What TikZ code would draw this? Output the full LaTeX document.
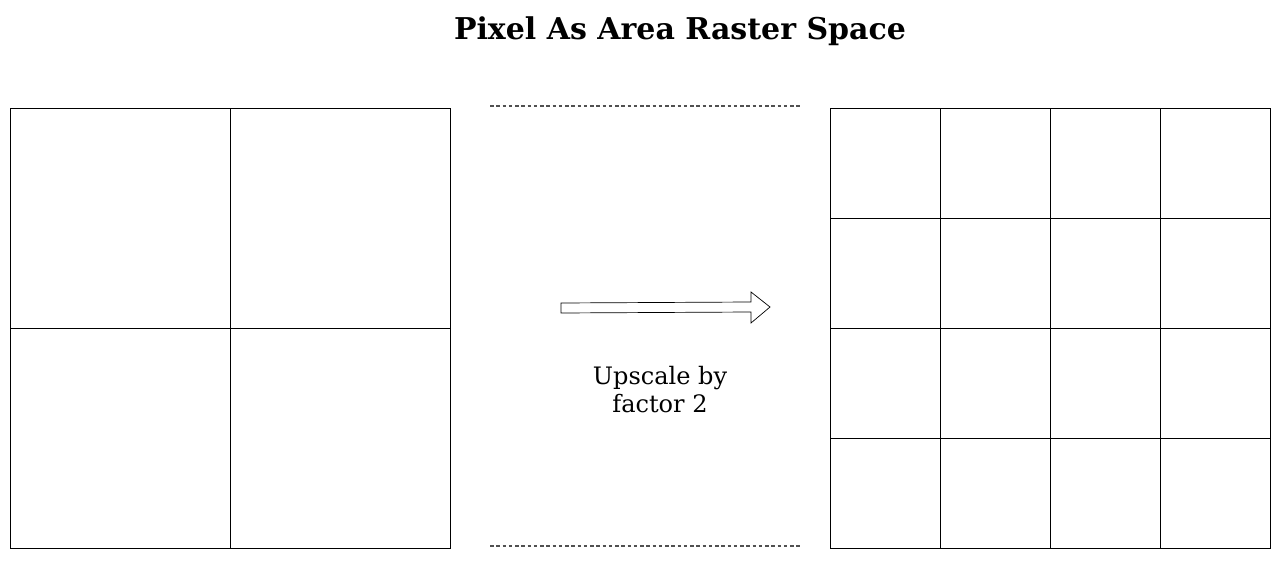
\documentclass[tikz,border=0pt]{standalone}
\usepackage{fontspec}
\setmainfont{DejaVu Serif}
\usepackage{tikz}
\usetikzlibrary{positioning}
\definecolor{guidegray}{RGB}{80,80,80}
\tikzstyle{cell} = [line width=0.7pt, draw=black]
\tikzstyle{guide} = [line width=1.2pt, color=guidegray, dash pattern=on 2.6pt off 1.9pt]
\tikzstyle{blockarrow} = [line width=0.5pt, draw=black, fill=white]

\begin{document}
\begin{tikzpicture}[x=0.72pt,y=-0.72pt]
\useasboundingbox (0,0) rectangle (1283,561);
% Title
\node[anchor=base, font=\bfseries\fontsize{21.6}{26}\selectfont] (title) at (680,40) {Pixel As Area Raster Space};

% Source raster, 2x2
\foreach \i in {0,1}
  \foreach \j in {0,1}
    \draw[cell] ({10+220*\i},{108+220*\j}) rectangle +(220,220);

% Target raster, 4x4
\foreach \i in {0,...,3}
  \foreach \j in {0,...,3}
    \draw[cell] ({830+110*\i},{108+110*\j}) rectangle +(110,110);

% Guide lines
\draw[guide] (490,106) -- (800,106);
\draw[guide] (490,546) -- (800,546);

% Upscale arrow
\draw[blockarrow] (561,303) -- (751,302) -- (751,292) -- (770,307) -- (751,323) -- (751,312) -- (561,313) -- cycle;
\node[align=center, font=\fontsize{17.3}{20.2}\selectfont] (label) at (660,390) {Upscale by\\factor 2};
\end{tikzpicture}
\end{document}
